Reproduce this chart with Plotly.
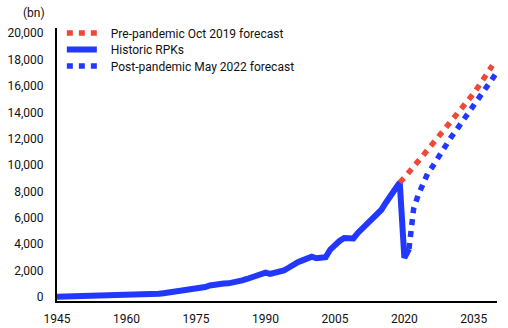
import plotly.graph_objects as go

# ---- data (bn RPKs) ----
hist_years = list(range(1945, 2022))
hist_rpk = [
    20, 25, 30, 35, 40, 45, 50, 55, 60, 65,          # 1945-1954
    72, 80, 88, 95, 102, 110, 118, 127, 140, 155,     # 1955-1964
    178, 205, 245, 290, 335, 375, 420, 470, 525, 555, # 1965-1974
    590, 660, 760, 880, 960, 1000, 1020, 1040, 1090, 1170,  # 1975-1984
    1260, 1370, 1500, 1640, 1760, 1850, 1750, 1830, 1860, 2020,  # 1985-1994
    2220, 2480, 2640, 2780, 2900, 3060, 2940, 2960, 3020, 3600,  # 1995-2004
    3950, 4250, 4480, 4500, 4440, 4880, 5220, 5550, 5900, 6280,  # 2005-2014
    6600, 7150, 7650, 8200, 8690, 2970, 3650                     # 2015-2021
]

pre_years = [2019, 2020, 2025, 2030, 2035, 2039]
pre_rpk = [8690, 9050, 11150, 13300, 15450, 17550]

post_years = list(range(2021, 2041))
post_rpk = [3650, 6700, 7750, 8650, 9350, 9850, 10450, 11050, 11600, 12070,
            12550, 13050, 13650, 14200, 14650, 15050, 15550, 16100, 16600, 17050]

x_ticks = [1945, 1960, 1975, 1990, 2005, 2020, 2035]
y_ticks = list(range(0, 20001, 2000))

RED = "#F04838"
BLUE = "#2238FF"
FONT = "Roboto"
TXT = "#111111"
PAD = "\u00a0\u00a0\u00a0"

fig = go.Figure()
fig.add_trace(go.Scatter(
    x=hist_years, y=hist_rpk, mode="lines", name=PAD + "Historic RPKs",
    line=dict(color=BLUE, width=6), legend="legend2", showlegend=True))
fig.add_trace(go.Scatter(
    x=post_years, y=post_rpk, mode="lines", name=PAD + "Post-pandemic May 2022 forecast",
    line=dict(color=BLUE, width=5.5, dash="6px,6px"), legend="legend3", showlegend=True))
fig.add_trace(go.Scatter(
    x=pre_years, y=pre_rpk, mode="lines", name=PAD + "Pre-pandemic Oct 2019 forecast",
    line=dict(color=RED, width=5.5, dash="6px,6px"), legend="legend", showlegend=True))

leg_common = dict(xanchor="left", yanchor="middle", bgcolor="rgba(0,0,0,0)",
                  font=dict(family=FONT, size=12, color=TXT), x=0.011)

fig.update_layout(
    width=508, height=328,
    showlegend=True,
    margin=dict(l=57, r=11, t=28, b=27),
    paper_bgcolor="white", plot_bgcolor="white",
    font=dict(family=FONT, size=12, color=TXT),
    legend=dict(y=0.9817, **leg_common),
    legend2=dict(y=0.9212, **leg_common),
    legend3=dict(y=0.8608, **leg_common),
    xaxis=dict(range=[1945, 2040], tickvals=x_ticks, showgrid=False, zeroline=False,
               showline=True, linecolor="black", linewidth=2, ticks="", automargin=False,
               ticklabelstandoff=6, tickfont=dict(family=FONT, size=12, color=TXT)),
    yaxis=dict(range=[-300, 20400], tickvals=y_ticks, tickformat=",", showgrid=False,
               zeroline=False, showline=True, linecolor="black", linewidth=2, ticks="",
               automargin=False,
               ticklabelstandoff=9, tickfont=dict(family=FONT, size=12, color=TXT)),
    annotations=[dict(text="(bn)", xref="paper", yref="paper", x=0, y=1.056,
                      xanchor="right", yanchor="middle", xshift=-10, showarrow=False,
                      font=dict(family=FONT, size=12, color=TXT))],
)

fig.write_html("out.html")
